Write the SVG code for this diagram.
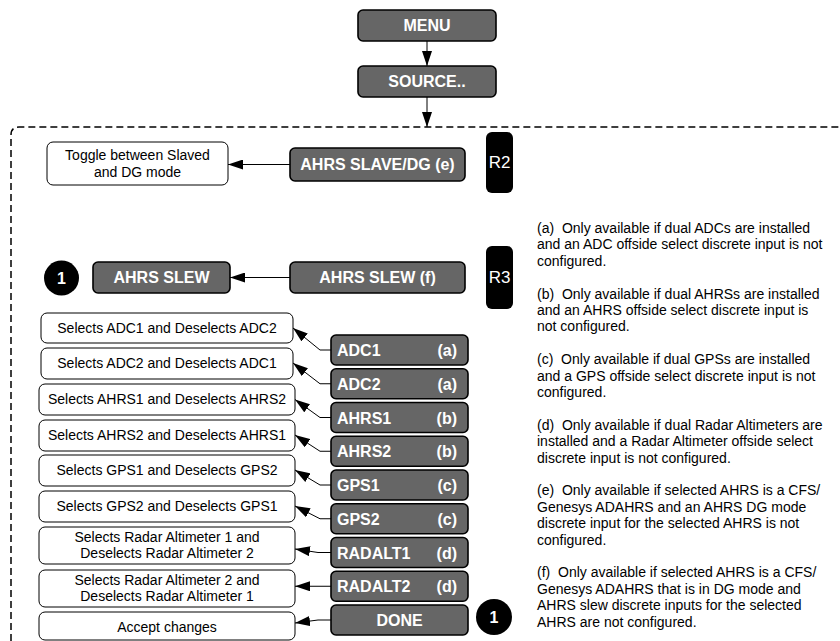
<svg xmlns="http://www.w3.org/2000/svg" width="840" height="641" viewBox="0 0 840 641">
<style>
.dk{fill:#666666;stroke:#000;stroke-width:1.6}
.wt{fill:#fff;stroke:#000;stroke-width:1}
.dt{font-family:"Liberation Sans",Arial,sans-serif;font-weight:bold;font-size:16px;fill:#fff}
.wtx{font-family:"Liberation Sans",Arial,sans-serif;font-size:14px;fill:#000;text-anchor:middle}
.rt{font-family:"Liberation Sans",Arial,sans-serif;font-size:17px;fill:#fff;text-anchor:middle}
.nt{font-family:"Liberation Sans",Arial,sans-serif;font-size:14px;fill:#000;white-space:pre}
.c{fill:none;stroke:#000;stroke-width:1;marker-end:url(#ah)}
.mid{text-anchor:middle}
.end{text-anchor:end}
</style>
<defs>
<marker id="ah" markerWidth="15" markerHeight="10" refX="15" refY="5" orient="auto" markerUnits="userSpaceOnUse"><path d="M0,0 L15,5 L0,10 z" fill="#000"/></marker>
</defs>
<rect width="840" height="641" fill="#fff"/>
<path d="M11,641 V135 Q11,127 19,127 H840" fill="none" stroke="#000" stroke-width="1.5" stroke-dasharray="7,4"/>

<g id="menu"><rect class="dk" x="358" y="10" width="138" height="31" rx="5"/><text class="dt mid" x="427" y="31">MENU</text></g>
<g id="source"><rect class="dk" x="358" y="66" width="138" height="31" rx="5"/><text class="dt mid" x="427" y="87">SOURCE..</text></g>

<g id="toggle"><rect class="wt" x="47" y="142" width="181" height="43" rx="6"/><text class="wtx" x="137.5" y="160">Toggle between Slaved</text><text class="wtx" x="137.5" y="177">and DG mode</text></g>
<g id="ahrs-slave"><rect class="dk" x="290" y="148" width="175" height="33" rx="5"/><text class="dt mid" x="377.5" y="170">AHRS SLAVE/DG (e)</text></g>
<g id="r2"><rect x="486" y="132" width="27" height="61" rx="6" fill="#000"/><text class="rt" x="499.5" y="168">R2</text></g>

<g id="circle1a"><circle cx="61.5" cy="278" r="17.5" fill="#000"/><text class="dt mid" x="61.5" y="284">1</text></g>
<g id="ahrs-slew"><rect class="dk" x="93" y="262" width="137" height="31" rx="5"/><text class="dt mid" x="161.5" y="283">AHRS SLEW</text></g>
<g id="ahrs-slew-f"><rect class="dk" x="290" y="262" width="175" height="31" rx="5"/><text class="dt mid" x="377.5" y="283">AHRS SLEW (f)</text></g>
<g id="r3"><rect x="486" y="246" width="27" height="63" rx="6" fill="#000"/><text class="rt" x="499.5" y="283">R3</text></g>

<g id="w-adc1"><rect class="wt" x="41" y="313" width="252" height="30" rx="6"/><text class="wtx" x="167" y="333">Selects ADC1 and Deselects ADC2</text></g>
<g id="w-adc2"><rect class="wt" x="41" y="348" width="252" height="31" rx="6"/><text class="wtx" x="167" y="368">Selects ADC2 and Deselects ADC1</text></g>
<g id="w-ahrs1"><rect class="wt" x="39" y="384" width="256" height="31" rx="6"/><text class="wtx" x="167" y="404">Selects AHRS1 and Deselects AHRS2</text></g>
<g id="w-ahrs2"><rect class="wt" x="39" y="420" width="256" height="31" rx="6"/><text class="wtx" x="167" y="440">Selects AHRS2 and Deselects AHRS1</text></g>
<g id="w-gps1"><rect class="wt" x="39" y="455" width="256" height="31" rx="6"/><text class="wtx" x="167" y="475">Selects GPS1 and Deselects GPS2</text></g>
<g id="w-gps2"><rect class="wt" x="39" y="491" width="256" height="31" rx="6"/><text class="wtx" x="167" y="511">Selects GPS2 and Deselects GPS1</text></g>
<g id="w-radalt1"><rect class="wt" x="39" y="527" width="256" height="37" rx="6"/><text class="wtx" x="167" y="542">Selects Radar Altimeter 1 and</text><text class="wtx" x="167" y="558">Deselects Radar Altimeter 2</text></g>
<g id="w-radalt2"><rect class="wt" x="39" y="570" width="256" height="37" rx="6"/><text class="wtx" x="167" y="585">Selects Radar Altimeter 2 and</text><text class="wtx" x="167" y="601">Deselects Radar Altimeter 1</text></g>
<g id="w-accept"><rect class="wt" x="39" y="612" width="256" height="28" rx="6"/><text class="wtx" x="167" y="632">Accept changes</text></g>

<g id="adc1"><rect class="dk" x="331" y="335" width="137" height="30" rx="5"/><text class="dt" x="337" y="356">ADC1</text><text class="dt end" x="457" y="356">(a)</text></g>
<g id="adc2"><rect class="dk" x="331" y="368.75" width="137" height="30" rx="5"/><text class="dt" x="337" y="389.75">ADC2</text><text class="dt end" x="457" y="389.75">(a)</text></g>
<g id="ahrs1"><rect class="dk" x="331" y="402.5" width="137" height="30" rx="5"/><text class="dt" x="337" y="423.5">AHRS1</text><text class="dt end" x="457" y="423.5">(b)</text></g>
<g id="ahrs2"><rect class="dk" x="331" y="436.25" width="137" height="30" rx="5"/><text class="dt" x="337" y="457.25">AHRS2</text><text class="dt end" x="457" y="457.25">(b)</text></g>
<g id="gps1"><rect class="dk" x="331" y="470" width="137" height="30" rx="5"/><text class="dt" x="337" y="491">GPS1</text><text class="dt end" x="457" y="491">(c)</text></g>
<g id="gps2"><rect class="dk" x="331" y="503.75" width="137" height="30" rx="5"/><text class="dt" x="337" y="524.75">GPS2</text><text class="dt end" x="457" y="524.75">(c)</text></g>
<g id="radalt1"><rect class="dk" x="331" y="537.5" width="137" height="30" rx="5"/><text class="dt" x="337" y="558.5">RADALT1</text><text class="dt end" x="457" y="558.5">(d)</text></g>
<g id="radalt2"><rect class="dk" x="331" y="571.25" width="137" height="30" rx="5"/><text class="dt" x="337" y="592.25">RADALT2</text><text class="dt end" x="457" y="592.25">(d)</text></g>
<g id="done"><rect class="dk" x="331" y="605" width="137" height="30" rx="5"/><text class="dt mid" x="399.5" y="626">DONE</text></g>
<g id="circle1b"><circle cx="494" cy="617" r="18" fill="#000"/><text class="dt mid" x="494" y="623">1</text></g>

<g id="connectors">
<path class="c" d="M427,41 V66"/>
<path class="c" d="M427,97 V127"/>
<path class="c" d="M290,164.5 H228"/>
<path class="c" d="M290,277.5 H230"/>
<path class="c" d="M331,350 H320 L293,328"/>
<path class="c" d="M331,383.75 H320 L293,363"/>
<path class="c" d="M331,417.5 H320 L295,399.5"/>
<path class="c" d="M331,451.25 H320 L295,435"/>
<path class="c" d="M331,485 H320 L295,470"/>
<path class="c" d="M331,518.75 H320 L295,506"/>
<path class="c" d="M331,552.5 H318 L295,549"/>
<path class="c" d="M331,586.25 H295"/>
<path class="c" d="M331,620 H318 L295,623"/>
</g>

<g id="notes" class="nt">
<text x="537" y="233" xml:space="preserve">(a)  Only available if dual ADCs are installed</text>
<text x="537" y="249.4">and an ADC offside select discrete input is not</text>
<text x="537" y="265.8">configured.</text>
<text x="537" y="298.6" xml:space="preserve">(b)  Only available if dual AHRSs are installed</text>
<text x="537" y="315">and an AHRS offside select discrete input is</text>
<text x="537" y="331.4">not configured.</text>
<text x="537" y="364.2" xml:space="preserve">(c)  Only available if dual GPSs are installed</text>
<text x="537" y="380.6">and a GPS offside select discrete input is not</text>
<text x="537" y="397">configured.</text>
<text x="537" y="429.8" xml:space="preserve">(d)  Only available if dual Radar Altimeters are</text>
<text x="537" y="446.2">installed and a Radar Altimeter offside select</text>
<text x="537" y="462.6">discrete input is not configured.</text>
<text x="537" y="495.4" xml:space="preserve">(e)  Only available if selected AHRS is a CFS/</text>
<text x="537" y="511.8">Genesys ADAHRS and an AHRS DG mode</text>
<text x="537" y="528.2">discrete input for the selected AHRS is not</text>
<text x="537" y="544.6">configured.</text>
<text x="537" y="577.4" xml:space="preserve">(f)  Only available if selected AHRS is a CFS/</text>
<text x="537" y="593.8">Genesys ADAHRS that is in DG mode and</text>
<text x="537" y="610.2">AHRS slew discrete inputs for the selected</text>
<text x="537" y="626.6">AHRS are not configured.</text>
</g>
</svg>
